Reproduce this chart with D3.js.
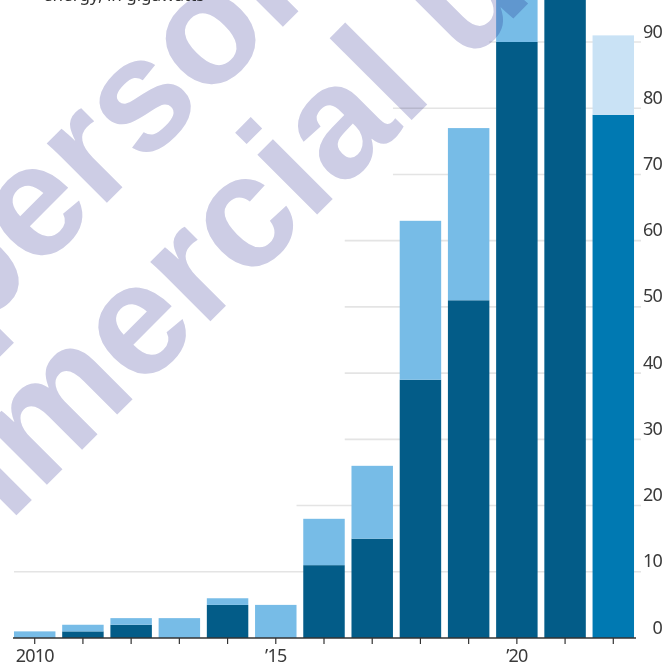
<!DOCTYPE html>
<html>
<head>
<meta charset="utf-8">
<script src="https://cdn.jsdelivr.net/npm/d3@7"></script>
<style>
  html, body { margin: 0; padding: 0; background: #fff; }
  svg { display: block; }
  .tick text { font-family: "Noto Sans", "Liberation Sans", sans-serif; }
</style>
</head>
<body>
<svg id="chart" width="662" height="665"></svg>
<script>
// Annual totals, split into the two stacked components
const years = [2010, 2011, 2012, 2013, 2014, 2015, 2016, 2017, 2018, 2019, 2020, 2021, 2022];
const baseValues  = [0, 1, 2, 0, 5, 0, 11, 15, 39, 51, 90, 112, 79];
const upperValues = [1, 1, 1, 3, 1, 5, 7, 11, 24, 26, 14, 0, 12];
const yTicks = [0, 10, 20, 30, 40, 50, 60, 70, 80, 90];
const xLabels = { 2010: "2010", 2015: "\u201915", 2020: "\u201920" };
const highlightYear = 2022;

// Gridlines are hidden to the left of the given year's bar (null = full width)
const gridClearAfter = { 10: null, 20: 2015, 30: 2016, 40: 2016, 50: 2016, 60: 2016, 70: 2017, 80: 2017, 90: 2019 };

const colors = {
  base: "#035c88", upper: "#77bce7",
  baseHi: "#0079b2", upperHi: "#c9e2f5"
};

const svg = d3.select("#chart");

const x = d3.scaleBand()
  .domain(years)
  .range([10.6, 637.4])
  .paddingInner(0.14)
  .paddingOuter(0.07);

const y = d3.scaleLinear().domain([0, 90]).range([638, 42]);

// Gridlines
const gridRight = 641;
svg.append("g")
  .selectAll("line")
  .data(yTicks.filter(d => d > 0))
  .join("line")
  .attr("x1", d => gridClearAfter[d] == null ? x(years[0]) : x(gridClearAfter[d]) + x.bandwidth())
  .attr("x2", gridRight)
  .attr("y1", d => y(d))
  .attr("y2", d => y(d))
  .attr("stroke", "#e4e4e4")
  .attr("stroke-width", 1.6);

// Stacked bars
const rows = years.map((yr, i) => ({ year: yr, base: baseValues[i], upper: upperValues[i] }));
const stack = d3.stack().keys(["base", "upper"])(rows);

svg.append("g")
  .selectAll("g")
  .data(stack)
  .join("g")
  .selectAll("rect")
  .data(s => s.map(d => ({ key: s.key, d })))
  .join("rect")
  .attr("x", e => x(e.d.data.year))
  .attr("width", x.bandwidth())
  .attr("y", e => y(e.d[1]))
  .attr("height", e => Math.max(0, y(e.d[0]) - y(e.d[1])))
  .attr("fill", e => {
    const hi = e.d.data.year === highlightYear;
    if (e.key === "base") return hi ? colors.baseHi : colors.base;
    return hi ? colors.upperHi : colors.upper;
  });

// Value axis on the right
const yAxis = svg.append("g")
  .attr("transform", "translate(662,0)")
  .call(d3.axisLeft(y).tickValues(yTicks).tickSize(0).tickPadding(0));
yAxis.select(".domain").remove();
yAxis.selectAll("text")
  .attr("dy", "-5")
  .attr("font-size", 18)
  .attr("letter-spacing", "-0.8")
  .attr("fill", "#3a3a3a")
  .attr("text-anchor", "end");

// Year axis
const xAxis = svg.append("g")
  .attr("transform", `translate(0,${y(0)})`)
  .call(d3.axisBottom(x)
    .tickSize(6)
    .tickSizeOuter(0)
    .tickFormat(d => xLabels[d] || ""));
xAxis.select(".domain").remove();
xAxis.selectAll(".tick line").attr("stroke", "#333").attr("stroke-width", 1.2);
xAxis.selectAll("text")
  .attr("y", 0)
  .attr("dy", 24)
  .attr("font-size", 18)
  .attr("letter-spacing", "-0.8")
  .attr("fill", "#3a3a3a");
xAxis.append("line")
  .attr("x1", x(years[0]) - 1)
  .attr("x2", x(years[years.length - 1]) + x.bandwidth() + 2)
  .attr("y1", 0).attr("y2", 0)
  .attr("stroke", "#333")
  .attr("stroke-width", 1.3);

// Subtitle line running off the top edge
svg.append("text")
  .attr("x", 43)
  .attr("y", 1)
  .attr("font-family", "'Noto Sans', sans-serif")
  .attr("font-size", 17)
  .attr("fill", "#333")
  .text("energy, in gigawatts");

// Usage watermark
const wm = svg.append("g")
  .attr("transform", "rotate(-45)")
  .style("mix-blend-mode", "multiply")
  .attr("font-family", "'Liberation Sans', Arial, sans-serif")
  .attr("font-weight", "bold")
  .attr("font-size", 160)
  .attr("fill", "#cdcde5");
wm.append("text").attr("x", -568).attr("y", 219).text("For personal, non-");
wm.append("text").attr("x", -650).attr("y", 376).text("commercial use only.");
</script>
</body>
</html>
